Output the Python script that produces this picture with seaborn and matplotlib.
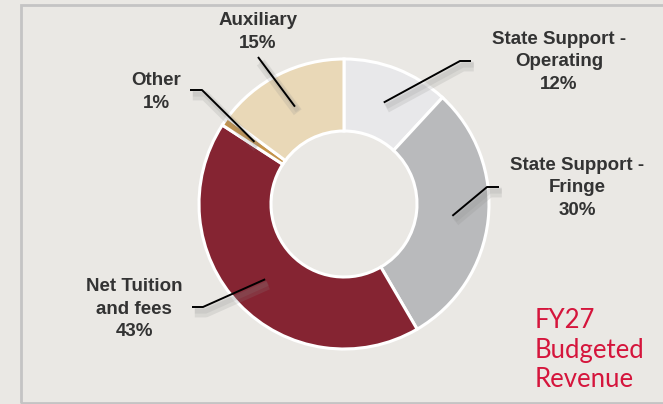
import numpy as np
import matplotlib
matplotlib.use('Agg')
import matplotlib.pyplot as plt
import matplotlib.patheffects as pe
from matplotlib.patches import Rectangle
import seaborn as sns

# data
labels = ["State Support -\nOperating", "State Support -\nFringe", "Net Tuition\nand fees", "Other", "Auxiliary"]
values = [12, 30, 43, 1, 15]
colors = ["#E8E8EA", "#B9BABC", "#852432", "#C4934A", "#E9D8B7"]
title_lines = ["FY27", "Budgeted", "Revenue"]

sns.set_theme(style="white")
plt.rcParams['font.family'] = ['Liberation Sans', 'DejaVu Sans']

BG = "#EAE8E4"
W, H = 663, 404
fig = plt.figure(figsize=(W / 100, H / 100), dpi=100, facecolor=BG)
ax = fig.add_axes([0, 0, 1, 1])
ax.set_facecolor(BG)

# donut, working in pixel units (y up)
cx, cy = 344, 200
r_out, r_in = 145, 73
wedges, _ = ax.pie(values, colors=colors, startangle=90, counterclock=False,
                   center=(cx, cy), radius=r_out,
                   wedgeprops=dict(width=r_out - r_in, edgecolor='white', linewidth=2.2))
ax.set_xlim(0, W)
ax.set_ylim(0, H)
ax.set_aspect('equal')
ax.axis('off')

# label layout: text centre, leader-line elbow points (pixel coords, y down)
layout = [
    dict(text=(559, 62), path=[(460, 61), (471, 61)]),
    dict(text=(577, 188), path=[(487, 187), (499, 187)]),
    dict(text=(134, 309), path=[(203, 307), (192, 307)]),
    dict(text=(156, 92), path=[(202, 90), (190, 90)]),
    dict(text=(258, 32), path=[(258, 57)]),
]

shadow = [pe.SimpleLineShadow(offset=(2, -4), shadow_color='#8a8a8a', alpha=0.18, linewidth=7),
          pe.SimpleLineShadow(offset=(2, -3), shadow_color='#8a8a8a', alpha=0.15, linewidth=3.5),
          pe.Normal()]

r_mid = (r_out + r_in) / 2
for w, lab, val, lay in zip(wedges, labels, values, layout):
    ang = np.deg2rad((w.theta1 + w.theta2) / 2)
    ax0, ay0 = cx + r_mid * np.cos(ang), cy + r_mid * np.sin(ang)
    xs = [ax0] + [p[0] for p in lay['path']]
    ys = [ay0] + [H - p[1] for p in lay['path']]
    ax.plot(xs, ys, color='black', lw=1.4, solid_capstyle='butt', path_effects=shadow, zorder=5)
    tx, ty = lay['text']
    ax.text(tx, H - ty, f"{lab}\n{val}%", ha='center', va='center', fontsize=13.5,
            fontweight='bold', color='#333333', linespacing=1.45, zorder=6)

# title block
ax.text(535, H - 387, "\n".join(title_lines), ha='left', va='baseline', fontsize=18.5,
        family=['Lato', 'DejaVu Sans'], color='#D5153C', linespacing=1.22)

# frame
ax.add_patch(Rectangle((21, 1.5), 700, 398, fill=False, ec='#C4C4C4', lw=2, zorder=10))

fig.savefig('out.png', dpi=100, facecolor=BG)
